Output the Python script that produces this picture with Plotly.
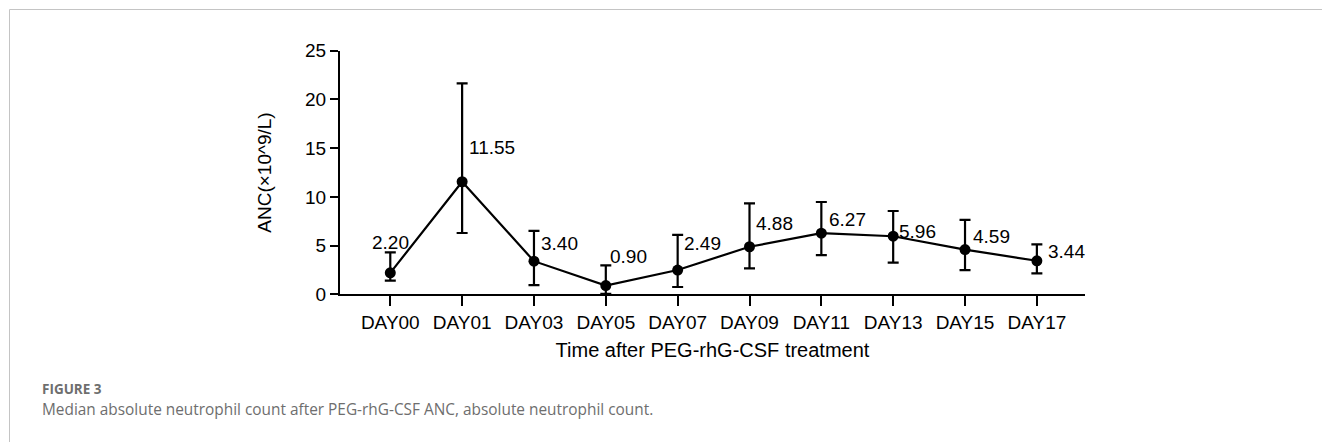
import plotly.graph_objects as go

days = ["DAY00", "DAY01", "DAY03", "DAY05", "DAY07", "DAY09", "DAY11", "DAY13", "DAY15", "DAY17"]
median = [2.20, 11.55, 3.40, 0.90, 2.49, 4.88, 6.27, 5.96, 4.59, 3.44]
upper = [4.31, 21.65, 6.50, 2.97, 6.09, 9.34, 9.47, 8.55, 7.63, 5.13]
lower = [1.40, 6.29, 0.95, 0.05, 0.75, 2.67, 4.03, 3.25, 2.49, 2.15]
y_ticks = [0, 5, 10, 15, 20, 25]

# label placement (style only): (xanchor, xshift px, yshift px)
label_pos = [("center", 0, 30), ("left", 5, 34), ("left", 5, 18), ("left", 2, 29),
             ("left", 4, 27), ("left", 4, 23), ("left", 6, 14), ("left", 4, 5),
             ("left", 6, 13), ("left", 9, 9)]

W, H = 1322, 442
FONT = "Liberation Sans, Arial, sans-serif"

err_plus = [u - m for u, m in zip(upper, median)]
err_minus = [m - l for m, l in zip(median, lower)]

fig = go.Figure()
fig.add_trace(go.Scatter(
    x=days, y=median, mode="lines+markers",
    line=dict(color="black", width=2.2),
    marker=dict(color="black", size=11),
    error_y=dict(type="data", symmetric=False, array=err_plus, arrayminus=err_minus,
                 color="black", thickness=2.2, width=5.5),
    cliponaxis=False, showlegend=False,
))

annotations = []
for d, m, (xa, xs, ys) in zip(days, median, label_pos):
    annotations.append(dict(x=d, y=m, xref="x", yref="y", text=f"{m:.2f}", showarrow=False,
                            xanchor=xa, yanchor="middle", xshift=xs, yshift=ys,
                            font=dict(family=FONT, size=19, color="black")))

CAP = "Open Sans, sans-serif"
caption_title = "FIGURE 3"
caption_text = "Median absolute neutrophil count after PEG-rhG-CSF ANC, absolute neutrophil count."
annotations.append(dict(x=40 / W, y=1 - 399.5 / H, xref="paper", yref="paper",
                        text=f"<b>{caption_title}</b>",
                        showarrow=False, xanchor="left", yanchor="bottom",
                        font=dict(family=CAP, size=13.5, color="#6e6e6e")))
annotations.append(dict(x=40 / W, y=1 - 421.5 / H, xref="paper", yref="paper",
                        text=caption_text,
                        showarrow=False, xanchor="left", yanchor="bottom",
                        font=dict(family=CAP, size=15.4, color="#6e6e6e")))

shapes = [
    dict(type="line", xref="paper", yref="paper", x0=9.5 / W, x1=1, y0=1 - 9.5 / H, y1=1 - 9.5 / H,
         line=dict(color="#c4c4c4", width=1)),
    dict(type="line", xref="paper", yref="paper", x0=9.5 / W, x1=9.5 / W, y0=0, y1=1 - 9.5 / H,
         line=dict(color="#c4c4c4", width=1)),
]

fig.update_layout(
    width=W, height=H, margin=dict(l=0, r=0, t=0, b=0, autoexpand=False),
    paper_bgcolor="white", plot_bgcolor="white",
    font=dict(family=FONT, size=19, color="black"),
    xaxis=dict(domain=[340 / W, 1085 / W], type="category", range=[-0.7, 9.67],
               showline=True, linecolor="black", linewidth=2.2, showgrid=False, zeroline=False,
               ticks="outside", ticklen=10, tickwidth=2.2, tickcolor="black", automargin=False,
               tickfont=dict(size=19),
               title=dict(text="Time after PEG-rhG-CSF treatment", font=dict(size=20), standoff=11)),
    yaxis=dict(domain=[1 - 294.3 / H, 1 - 50.7 / H], range=[0, 25], tickvals=y_ticks,
               showline=True, linecolor="black", linewidth=2.2, showgrid=False, zeroline=False,
               ticks="outside", ticklen=8, tickwidth=2.2, tickcolor="black", automargin=False,
               tickfont=dict(size=19),
               title=dict(text="ANC(×10^9/L)", font=dict(size=19), standoff=28)),
    annotations=annotations, shapes=shapes,
)

fig.write_html("out.html",
               post_script="document.body.style.margin='0';document.body.style.overflow='hidden';"
                           "document.documentElement.style.overflow='hidden';")
